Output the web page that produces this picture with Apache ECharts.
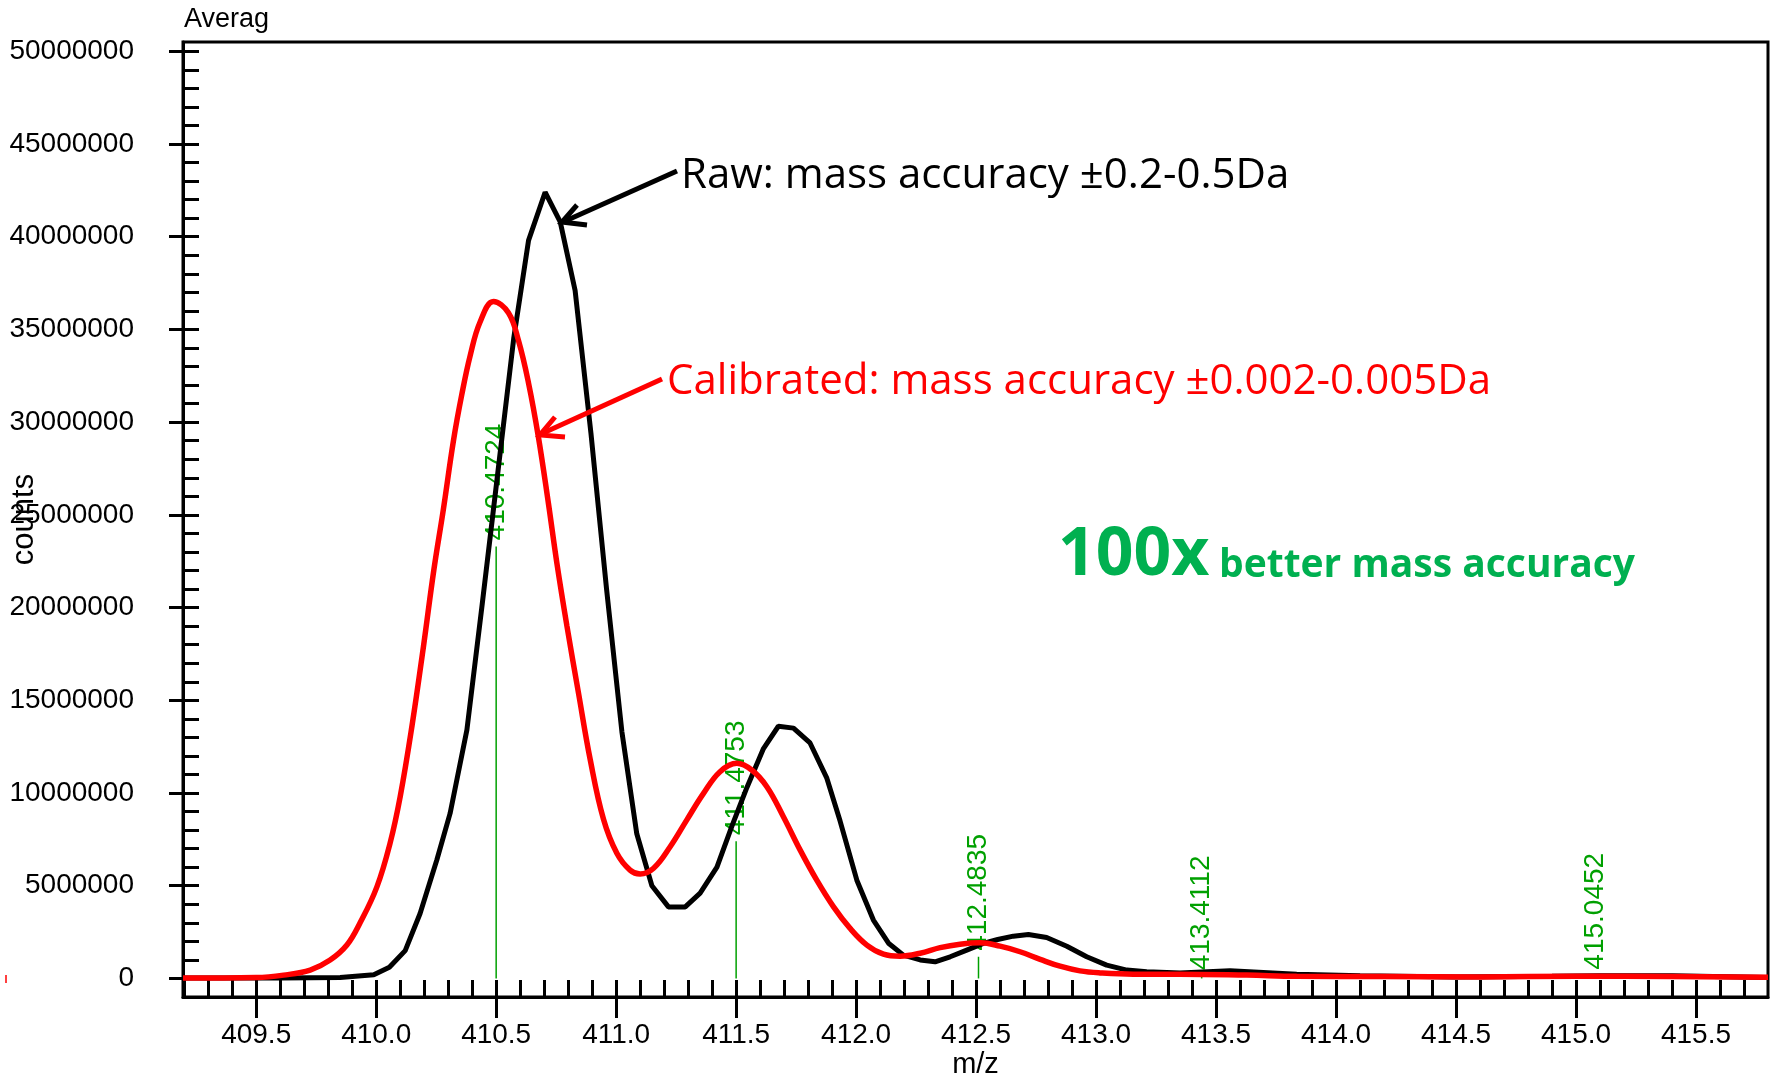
<!DOCTYPE html>
<html>
<head>
<meta charset="utf-8">
<title>Averaged spectrum m/z</title>
<script src="https://cdn.jsdelivr.net/npm/echarts@6/dist/echarts.min.js"></script>
<style>
html, body { margin: 0; padding: 0; background: #fff; }
#main { width: 1772px; height: 1081px; }
</style>
</head>
<body>
<div id="main"></div>
<script>
// raw spectrum (black), m/z and counts
var rawMz = [409.195, 409.6, 409.85, 409.99, 410.055, 410.121, 410.183, 410.253, 410.308, 410.378,
    410.442, 410.508, 410.573, 410.635, 410.704, 410.767, 410.829, 410.895, 410.96, 411.024,
    411.086, 411.149, 411.218, 411.288, 411.35, 411.42, 411.482, 411.545, 411.614, 411.676,
    411.739, 411.808, 411.878, 411.933, 412.003, 412.072, 412.135, 412.197, 412.267, 412.329,
    412.392, 412.461, 412.53, 412.59, 412.655, 412.718, 412.794, 412.878, 412.961, 413.044,
    413.128, 413.211, 413.35, 413.558, 413.836, 414.1, 414.5, 414.9, 415.1, 415.4, 415.8];
var rawCounts = [20000, 20000, 50000, 200000, 600000, 1500000, 3500000, 6400000, 8900000, 13400000,
    20200000, 27400000, 34500000, 39800000, 42400000, 40800000, 37100000, 29400000, 21000000, 13300000,
    7800000, 5000000, 3860000, 3860000, 4600000, 6000000, 8200000, 10300000, 12400000, 13600000,
    13500000, 12700000, 10800000, 8500000, 5300000, 3150000, 1900000, 1260000, 1000000, 900000,
    1170000, 1530000, 1890000, 2100000, 2280000, 2370000, 2210000, 1740000, 1170000, 720000,
    450000, 360000, 300000, 410000, 230000, 150000, 80000, 120000, 150000, 150000, 50000];

// calibrated spectrum (red)
var calMz = [409.195, 409.5, 409.614, 409.725, 409.808, 409.878, 409.933, 410.003, 410.058, 410.1,
    410.149, 410.197, 410.24, 410.28, 410.322, 410.357, 410.392, 410.433, 410.489, 410.551,
    410.593, 410.635, 410.676, 410.718, 410.753, 410.795, 410.843, 410.892, 410.947, 411.003,
    411.058, 411.1, 411.156, 411.225, 411.294, 411.364, 411.433, 411.503, 411.565, 411.628,
    411.697, 411.767, 411.836, 411.906, 411.975, 412.045, 412.114, 412.183, 412.267, 412.35,
    412.433, 412.517, 412.6, 412.683, 412.767, 412.85, 412.933, 413.017, 413.155, 413.35,
    413.628, 413.836, 414.2, 414.6, 415.0, 415.4, 415.8];
var calCounts = [20000, 50000, 180000, 450000, 990000, 1800000, 3000000, 4940000, 7300000, 9800000,
    13600000, 17900000, 22000000, 25300000, 29000000, 31500000, 33600000, 35400000, 36500000, 35900000,
    34400000, 32100000, 29200000, 25600000, 22400000, 19000000, 15400000, 11800000, 8600000, 6750000,
    5840000, 5630000, 5940000, 7100000, 8540000, 9980000, 11150000, 11600000, 11240000, 10340000,
    8720000, 6920000, 5300000, 3860000, 2700000, 1800000, 1310000, 1200000, 1360000, 1660000,
    1850000, 1920000, 1740000, 1440000, 1030000, 660000, 410000, 300000, 230000, 230000,
    180000, 120000, 100000, 80000, 120000, 100000, 70000];

// centroid sticks and their labels
var stickMz = [410.50, 411.50, 412.51, 413.44, 415.08];
var stickCounts = [23300000, 7400000, 1170000, 120000, 150000];
var stickLabels = ['410.4724', '411.4753', '412.4835', '413.4112', '415.0452'];

// axis ticks
var xTicks = [409.5, 410.0, 410.5, 411.0, 411.5, 412.0, 412.5, 413.0, 413.5, 414.0, 414.5, 415.0, 415.5];
var yTicks = [0, 5000000, 10000000, 15000000, 20000000, 25000000, 30000000, 35000000, 40000000, 45000000, 50000000];

var xMin = 409.195, xMax = 415.80;
var yMin = -1000000, yMax = 50500000;

var arial = "'Liberation Sans', Arial, sans-serif";
var calibri = "'Open Sans', Lato, sans-serif";

function pairs(xs, ys) {
    var out = [];
    for (var i = 0; i < xs.length; i++) out.push([xs[i], ys[i]]);
    return out;
}

// minor ticks every 0.1 on x, every 1000000 on y
var xMinor = [];
for (var v = 4092; v <= 4157; v++) xMinor.push(v / 10);
var yMinor = [];
for (var k = 0; k <= 50; k++) yMinor.push(k * 1000000);

var chart = echarts.init(document.getElementById('main'));
var option = {
    animation: false,
    backgroundColor: '#fff',
    title: {
        text: 'Averag',
        left: 179,
        top: 1,
        textStyle: { fontFamily: arial, fontSize: 27, fontWeight: 'normal', color: '#000' }
    },
    grid: {
        left: 183, right: 4, top: 42, bottom: 84,
        outerBoundsMode: 'none',
        show: true, borderColor: '#000', borderWidth: 3
    },
    xAxis: [{
        type: 'value', min: xMin, max: xMax, position: 'bottom',
        name: 'm/z', nameLocation: 'middle', nameGap: 53, nameMoveOverlap: false,
        nameTextStyle: { fontFamily: arial, fontSize: 29, color: '#000' },
        axisLine: { show: true, onZero: false, lineStyle: { color: '#000', width: 3 } },
        axisTick: { show: true, inside: false, length: 21, customValues: xTicks, lineStyle: { color: '#000', width: 3 } },
        axisLabel: {
            customValues: xTicks, margin: 24, color: '#000', fontFamily: arial, fontSize: 28,
            formatter: function (v) { return v.toFixed(1); }
        },
        splitLine: { show: false }
    }, {
        type: 'value', min: xMin, max: xMax, position: 'bottom',
        axisLine: { show: false, onZero: false },
        axisTick: { show: true, inside: true, length: 17, customValues: xMinor, lineStyle: { color: '#000', width: 3 } },
        axisLabel: { show: false },
        splitLine: { show: false }
    }],
    yAxis: [{
        type: 'value', min: yMin, max: yMax, position: 'left',
        name: 'counts', nameLocation: 'middle', nameGap: 143, nameRotate: 90, nameMoveOverlap: false,
        nameTextStyle: { fontFamily: arial, fontSize: 31, color: '#000' },
        axisLine: { show: true, onZero: false, lineStyle: { color: '#000', width: 3 } },
        axisTick: { show: true, inside: false, length: 14, customValues: yTicks, lineStyle: { color: '#000', width: 3 } },
        axisLabel: {
            customValues: yTicks, margin: 49, color: '#000', fontFamily: arial, fontSize: 28,
            formatter: function (v) { return String(v); }
        },
        splitLine: { show: false }
    }, {
        type: 'value', min: yMin, max: yMax, position: 'left',
        axisLine: { show: false, onZero: false },
        axisTick: { show: true, inside: true, length: 16, customValues: yMinor, lineStyle: { color: '#000', width: 3 } },
        axisLabel: { show: false },
        splitLine: { show: false }
    }],
    series: [{
        name: 'centroids',
        type: 'bar',
        xAxisIndex: 0, yAxisIndex: 0,
        barWidth: 1.5,
        z: 1,
        itemStyle: { color: '#00a000' },
        label: {
            show: true, position: 'top', rotate: 90, align: 'left', verticalAlign: 'middle',
            distance: 6, color: '#00a000', fontFamily: arial, fontSize: 28,
            formatter: function (p) { return stickLabels[p.dataIndex]; }
        },
        data: pairs(stickMz, stickCounts)
    }, {
        name: 'Raw',
        type: 'line',
        xAxisIndex: 0, yAxisIndex: 0,
        symbol: 'none',
        z: 3,
        lineStyle: { color: '#000', width: 5 },
        data: pairs(rawMz, rawCounts)
    }, {
        name: 'Calibrated',
        type: 'line',
        xAxisIndex: 0, yAxisIndex: 0,
        symbol: 'none',
        smooth: 0.4,
        z: 4,
        lineStyle: { color: '#ff0000', width: 5.5 },
        data: pairs(calMz, calCounts)
    }],
    graphic: [
        // black arrow + text
        { type: 'polyline', z: 10, shape: { points: [[677, 171], [563, 222]] }, style: { stroke: '#000', lineWidth: 5, fill: null } },
        { type: 'polyline', z: 10, shape: { points: [[577, 205], [562, 222], [587, 225]] }, style: { stroke: '#000', lineWidth: 5, fill: null } },
        { type: 'text', z: 10, style: { text: 'Raw: mass accuracy ±0.2-0.5Da', x: 681, y: 176, verticalAlign: 'middle', font: '42px ' + calibri, fill: '#000' } },
        // red arrow + text
        { type: 'polyline', z: 10, shape: { points: [[662, 379], [541, 434]] }, style: { stroke: '#ff0000', lineWidth: 5, fill: null } },
        { type: 'polyline', z: 10, shape: { points: [[555, 417], [540, 435], [565, 437]] }, style: { stroke: '#ff0000', lineWidth: 5, fill: null } },
        { type: 'text', z: 10, style: { text: 'Calibrated: mass accuracy ±0.002-0.005Da', x: 667, y: 382, verticalAlign: 'middle', font: '42px ' + calibri, fill: '#ff0000' } },
        // 100x note
        { type: 'text', z: 10, style: { text: '100x', x: 1058, y: 556, verticalAlign: 'middle', font: 'bold 66px ' + calibri, fill: '#00b050' } },
        { type: 'text', z: 10, style: { text: 'better mass accuracy', x: 1219, y: 566, verticalAlign: 'middle', font: 'bold 39px ' + calibri, fill: '#00b050' } },
        // stray red mark at the far left
        { type: 'line', z: 10, shape: { x1: 6, y1: 975, x2: 6, y2: 983 }, style: { stroke: '#ff0000', lineWidth: 1.5 } }
    ]
};
chart.setOption(option);
</script>
</body>
</html>
